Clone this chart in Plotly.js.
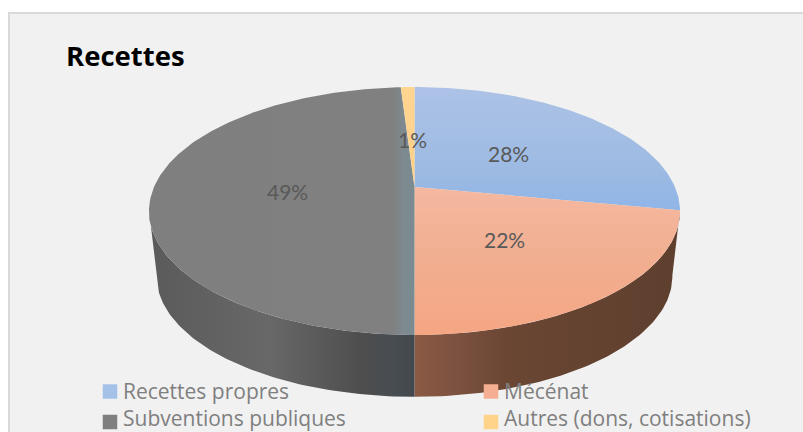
<!DOCTYPE html>
<html><head><meta charset="utf-8">
<script src="https://cdn.plot.ly/plotly-3.0.1.min.js"></script>
<style>html,body{margin:0;padding:0;background:#fff}#c{width:803px;height:432px}</style>
</head><body><div id="c"></div>
<script>
// ---- data ----
const categories = ['Recettes propres', 'Mécénat', 'Subventions publiques', 'Autres (dons, cotisations)'];
const values = [28, 22, 49, 1];
const chartTitle = 'Recettes';

// ---- styles ----
const FONT = 'Lato, "Open Sans", sans-serif';
const FONT_WIDE = '"Open Sans", Lato, sans-serif';
const topFills = [
  {type:'vertical', colorscale:[[0,'#8fb5e8'],[0.3,'#9cbae2'],[1,'#adc2e6']]},
  {type:'vertical', colorscale:[[0,'#f5a683'],[0.5,'#f1ae90'],[1,'#f4b8a0']]},
  {type:'horizontal', colorscale:[[0,'#7f7f7f'],[0.92,'#808080'],[0.96,'#7d8a90'],[1,'#7b8b92']]},
  {type:'vertical', colorscale:[[0,'#ffd08a'],[1,'#ffd58f']]}
];
const wallFills = [
  null,
  {type:'horizontal', colorscale:[[0,'#8a5a44'],[0.15,'#7d5240'],[0.35,'#6a4633'],[1,'#5e3f2e']]},
  {type:'horizontal', colorscale:[[0,'#5a5a5a'],[0.45,'#686868'],[0.8,'#4e4e4e'],[0.92,'#474d52'],[1,'#43484c']]},
  null
];
const swatchColors = ['#a4c2e8', '#f5ae92', '#7f7f7f', '#ffd48a'];
const labelXY = [[508,153],[504,239],[287,191],[412,139]];
const legendXY = [[110,391.5],[491,391.5],[110,422],[491,422]];
const legendTextY = [390.5, 390.5, 418, 418];

// perspective projection of the disc onto the page
const K = 0.1935;
function project(theta, a, b, x0, y0) {
  const u = Math.sin(theta), v = Math.cos(theta), w = 1 + K * v;
  return [x0 + a * u / w, y0 - b * v / w];
}
const topFace = t => project(t, 260.5, 119.35, 414.5, 187);
const baseFace = t => project(t, 253, 116, 414.5, 253);

function arc(fn, t0, t1) {
  const n = Math.max(2, Math.ceil(Math.abs(t1 - t0) * 60));
  const pts = [];
  for (let i = 0; i <= n; i++) pts.push(fn(t0 + (t1 - t0) * i / n));
  return pts;
}

const total = values.reduce((s, v) => s + v, 0);
const traces = [];
const wallLimits = [null, [Math.PI * 0.56, Math.PI], [Math.PI, Math.PI * 1.44], null];
let acc = 0;
const sectors = values.map(v => {
  const t0 = acc / total * 2 * Math.PI; acc += v;
  return [t0, acc / total * 2 * Math.PI];
});

// side walls (behind the top face)
wallFills.forEach((fill, i) => {
  if (!fill) return;
  const [a, b] = wallLimits[i];
  const pts = arc(topFace, a, b).concat(arc(baseFace, b, a));
  traces.push({
    type:'scatter', mode:'lines', x:pts.map(p => p[0]), y:pts.map(p => p[1]),
    fill:'toself', fillgradient:fill, line:{width:0}, hoverinfo:'skip', showlegend:false
  });
});

// top face sectors
sectors.forEach(([a, b], i) => {
  const pts = [[414.5, 187]].concat(arc(topFace, a, b));
  pts.push(pts[0]);
  traces.push({
    type:'scatter', mode:'lines', name:categories[i],
    x:pts.map(p => p[0]), y:pts.map(p => p[1]),
    fill:'toself', fillgradient:topFills[i], line:{width:0},
    hoverinfo:'name', showlegend:false
  });
});

// legend swatches
traces.push({
  type:'scatter', mode:'markers', x:legendXY.map(p => p[0]), y:legendXY.map(p => p[1]),
  marker:{symbol:'square', size:14.5, color:swatchColors, line:{width:0}},
  hoverinfo:'skip', showlegend:false
});

const annotations = [];
values.forEach((v, i) => annotations.push({
  x:labelXY[i][0], y:labelXY[i][1], xref:'x', yref:'y', showarrow:false,
  text:v + '%', font:{family:FONT, size:21, color:'#595959'}
}));
categories.forEach((c, i) => annotations.push({
  x:legendXY[i][0] + 11, y:legendTextY[i], xref:'x', yref:'y', showarrow:false,
  xanchor:'left', text:c, font:{family:FONT_WIDE, size:21, color:'#7f7f7f'}
}));

const layout = {
  width:803, height:432,
  margin:{l:0, r:0, t:0, b:0},
  paper_bgcolor:'#ffffff', plot_bgcolor:'rgba(0,0,0,0)',
  showlegend:false,
  title:{text:'<b>' + chartTitle + '</b>', x:66/803, xanchor:'left', y:1-56/432, yanchor:'middle',
         font:{family:FONT_WIDE, size:27.5, color:'#000000'}},
  xaxis:{range:[0,803], visible:false, fixedrange:true},
  yaxis:{range:[432,0], visible:false, fixedrange:true},
  shapes:[{type:'rect', layer:'below', xref:'x', yref:'y', x0:9, y0:13, x1:820, y1:450,
           fillcolor:'#f1f1f1', line:{color:'#d9d9d9', width:2}}],
  annotations:annotations
};
Plotly.newPlot('c', traces, layout, {displayModeBar:false, staticPlot:true});
</script></body></html>
